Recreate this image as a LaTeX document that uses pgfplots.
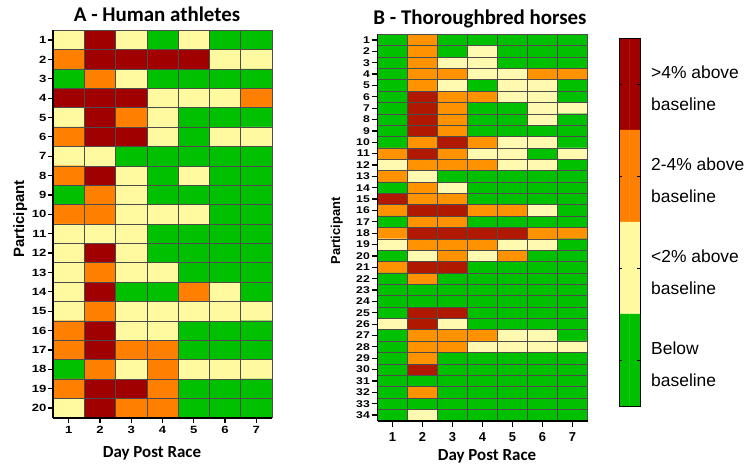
\documentclass[border=0pt]{standalone}
\usepackage{pgfplots}
\pgfplotsset{compat=1.18}
\usepackage{fontspec}
\setmainfont{Liberation Sans}
\newfontfamily\calibri{Carlito}
\newfontfamily\tickfont{Liberation Sans}[FakeStretch=1.25]
\pgfplotsset{
  colormap={cmA}{rgb255=(0,192,0) rgb255=(255,250,160) rgb255=(255,128,0) rgb255=(160,0,0)},
  colormap={cmB}{rgb255=(0,192,0) rgb255=(255,250,176) rgb255=(255,146,0) rgb255=(176,24,0)},
  hm/.style={
    scale only axis, axis on top,
    xmin=0.5, xmax=7.5, y dir=reverse,
    xtick={1,...,7},
    xtick pos=left, ytick pos=left,
    tick align=outside,
    minor xtick={0.5,1.5,...,7.5},
    minor tick length=0pt,
    xminorgrids, yminorgrids,
    minor grid style={black!70, line width=0.6pt},
    axis x line*=bottom, axis y line*=left,
    axis line style={black, line width=1.6pt, -},
    major tick style={black, line width=1.2pt},
    /pgf/number format/assume math mode=true,
    colormap access=direct,
  },
}
\begin{document}
\begin{tikzpicture}
\path[use as bounding box] (0,0) rectangle (750bp,-465bp);

% ---------------- Panel A ----------------
\begin{axis}[hm, colormap name=cmA,
  at={(53bp,-30.3bp)}, anchor=north west,
  width=219bp, height=387.4bp,
  ymin=0.5, ymax=20.5, ytick={1,...,20},
  minor ytick={0.5,1.5,...,20.5},
  major tick length=5bp,
  yticklabel style={font=\tickfont\bfseries\fontsize{10.5}{10.5}\selectfont, inner sep=1.5bp},
  xticklabel style={font=\tickfont\bfseries\fontsize{10.5}{10.5}\selectfont},
]
\addplot[matrix plot*, mesh/cols=7, point meta=explicit] table[meta=c, row sep=\\] {
x y c\\
1 1 1\\ 2 1 3\\ 3 1 1\\ 4 1 0\\ 5 1 1\\ 6 1 0\\ 7 1 0\\
1 2 2\\ 2 2 3\\ 3 2 3\\ 4 2 3\\ 5 2 3\\ 6 2 1\\ 7 2 1\\
1 3 0\\ 2 3 2\\ 3 3 1\\ 4 3 0\\ 5 3 0\\ 6 3 0\\ 7 3 0\\
1 4 3\\ 2 4 3\\ 3 4 3\\ 4 4 1\\ 5 4 1\\ 6 4 1\\ 7 4 2\\
1 5 1\\ 2 5 3\\ 3 5 2\\ 4 5 1\\ 5 5 0\\ 6 5 0\\ 7 5 0\\
1 6 2\\ 2 6 3\\ 3 6 3\\ 4 6 1\\ 5 6 0\\ 6 6 1\\ 7 6 1\\
1 7 1\\ 2 7 1\\ 3 7 0\\ 4 7 0\\ 5 7 0\\ 6 7 0\\ 7 7 0\\
1 8 2\\ 2 8 3\\ 3 8 1\\ 4 8 0\\ 5 8 1\\ 6 8 0\\ 7 8 0\\
1 9 0\\ 2 9 2\\ 3 9 1\\ 4 9 0\\ 5 9 0\\ 6 9 0\\ 7 9 0\\
1 10 2\\ 2 10 2\\ 3 10 1\\ 4 10 1\\ 5 10 1\\ 6 10 0\\ 7 10 0\\
1 11 1\\ 2 11 1\\ 3 11 1\\ 4 11 0\\ 5 11 0\\ 6 11 0\\ 7 11 0\\
1 12 1\\ 2 12 3\\ 3 12 1\\ 4 12 0\\ 5 12 0\\ 6 12 0\\ 7 12 0\\
1 13 1\\ 2 13 2\\ 3 13 1\\ 4 13 1\\ 5 13 0\\ 6 13 0\\ 7 13 0\\
1 14 1\\ 2 14 3\\ 3 14 0\\ 4 14 0\\ 5 14 2\\ 6 14 1\\ 7 14 0\\
1 15 1\\ 2 15 2\\ 3 15 1\\ 4 15 1\\ 5 15 1\\ 6 15 1\\ 7 15 1\\
1 16 2\\ 2 16 3\\ 3 16 1\\ 4 16 1\\ 5 16 0\\ 6 16 0\\ 7 16 0\\
1 17 2\\ 2 17 3\\ 3 17 2\\ 4 17 2\\ 5 17 0\\ 6 17 0\\ 7 17 0\\
1 18 0\\ 2 18 2\\ 3 18 1\\ 4 18 2\\ 5 18 1\\ 6 18 1\\ 7 18 1\\
1 19 2\\ 2 19 3\\ 3 19 3\\ 4 19 2\\ 5 19 0\\ 6 19 0\\ 7 19 0\\
1 20 1\\ 2 20 3\\ 3 20 2\\ 4 20 2\\ 5 20 0\\ 6 20 0\\ 7 20 0\\
};
\end{axis}

% ---------------- Panel B ----------------
\begin{axis}[hm, colormap name=cmB,
  at={(377.5bp,-34.3bp)}, anchor=north west,
  width=210bp, height=386.4bp,
  ymin=0.5, ymax=34.5, ytick={1,...,34},
  minor ytick={0.5,1.5,...,34.5},
  major tick length=6bp,
  yticklabel style={font=\tickfont\bfseries\fontsize{9.8}{9.8}\selectfont, inner sep=1.5bp},
  xticklabel style={font=\bfseries\fontsize{13}{13}\selectfont, yshift=-2bp},
]
\addplot[matrix plot*, mesh/cols=7, point meta=explicit] table[meta=c, row sep=\\] {
x y c\\
1 1 0\\ 2 1 2\\ 3 1 0\\ 4 1 0\\ 5 1 0\\ 6 1 0\\ 7 1 0\\
1 2 0\\ 2 2 2\\ 3 2 0\\ 4 2 1\\ 5 2 0\\ 6 2 0\\ 7 2 0\\
1 3 0\\ 2 3 2\\ 3 3 1\\ 4 3 1\\ 5 3 0\\ 6 3 0\\ 7 3 0\\
1 4 0\\ 2 4 2\\ 3 4 2\\ 4 4 1\\ 5 4 1\\ 6 4 2\\ 7 4 2\\
1 5 0\\ 2 5 2\\ 3 5 1\\ 4 5 0\\ 5 5 1\\ 6 5 1\\ 7 5 0\\
1 6 0\\ 2 6 3\\ 3 6 2\\ 4 6 2\\ 5 6 1\\ 6 6 1\\ 7 6 0\\
1 7 0\\ 2 7 3\\ 3 7 2\\ 4 7 0\\ 5 7 0\\ 6 7 1\\ 7 7 1\\
1 8 0\\ 2 8 3\\ 3 8 2\\ 4 8 0\\ 5 8 0\\ 6 8 1\\ 7 8 0\\
1 9 0\\ 2 9 3\\ 3 9 2\\ 4 9 0\\ 5 9 0\\ 6 9 0\\ 7 9 0\\
1 10 0\\ 2 10 2\\ 3 10 3\\ 4 10 2\\ 5 10 1\\ 6 10 1\\ 7 10 0\\
1 11 2\\ 2 11 3\\ 3 11 2\\ 4 11 1\\ 5 11 1\\ 6 11 0\\ 7 11 1\\
1 12 1\\ 2 12 2\\ 3 12 2\\ 4 12 2\\ 5 12 1\\ 6 12 1\\ 7 12 0\\
1 13 2\\ 2 13 1\\ 3 13 0\\ 4 13 0\\ 5 13 0\\ 6 13 0\\ 7 13 0\\
1 14 0\\ 2 14 2\\ 3 14 1\\ 4 14 0\\ 5 14 0\\ 6 14 0\\ 7 14 0\\
1 15 3\\ 2 15 2\\ 3 15 2\\ 4 15 0\\ 5 15 0\\ 6 15 0\\ 7 15 0\\
1 16 2\\ 2 16 3\\ 3 16 3\\ 4 16 2\\ 5 16 2\\ 6 16 1\\ 7 16 0\\
1 17 0\\ 2 17 2\\ 3 17 2\\ 4 17 0\\ 5 17 0\\ 6 17 0\\ 7 17 0\\
1 18 2\\ 2 18 3\\ 3 18 3\\ 4 18 3\\ 5 18 3\\ 6 18 2\\ 7 18 2\\
1 19 1\\ 2 19 2\\ 3 19 2\\ 4 19 2\\ 5 19 1\\ 6 19 1\\ 7 19 0\\
1 20 0\\ 2 20 1\\ 3 20 2\\ 4 20 1\\ 5 20 2\\ 6 20 0\\ 7 20 0\\
1 21 2\\ 2 21 3\\ 3 21 3\\ 4 21 0\\ 5 21 0\\ 6 21 0\\ 7 21 0\\
1 22 0\\ 2 22 2\\ 3 22 0\\ 4 22 0\\ 5 22 0\\ 6 22 0\\ 7 22 0\\
1 23 0\\ 2 23 0\\ 3 23 0\\ 4 23 0\\ 5 23 0\\ 6 23 0\\ 7 23 0\\
1 24 0\\ 2 24 0\\ 3 24 0\\ 4 24 0\\ 5 24 0\\ 6 24 0\\ 7 24 0\\
1 25 0\\ 2 25 3\\ 3 25 3\\ 4 25 0\\ 5 25 0\\ 6 25 0\\ 7 25 0\\
1 26 1\\ 2 26 3\\ 3 26 1\\ 4 26 0\\ 5 26 0\\ 6 26 0\\ 7 26 0\\
1 27 0\\ 2 27 2\\ 3 27 2\\ 4 27 2\\ 5 27 1\\ 6 27 1\\ 7 27 0\\
1 28 0\\ 2 28 2\\ 3 28 2\\ 4 28 1\\ 5 28 1\\ 6 28 1\\ 7 28 1\\
1 29 0\\ 2 29 2\\ 3 29 0\\ 4 29 0\\ 5 29 0\\ 6 29 0\\ 7 29 0\\
1 30 0\\ 2 30 3\\ 3 30 0\\ 4 30 0\\ 5 30 0\\ 6 30 0\\ 7 30 0\\
1 31 0\\ 2 31 0\\ 3 31 0\\ 4 31 0\\ 5 31 0\\ 6 31 0\\ 7 31 0\\
1 32 0\\ 2 32 2\\ 3 32 0\\ 4 32 0\\ 5 32 0\\ 6 32 0\\ 7 32 0\\
1 33 0\\ 2 33 0\\ 3 33 0\\ 4 33 0\\ 5 33 0\\ 6 33 0\\ 7 33 0\\
1 34 0\\ 2 34 1\\ 3 34 0\\ 4 34 0\\ 5 34 0\\ 6 34 0\\ 7 34 0\\
};
\end{axis}

% ---------------- Colour key ----------------
\begin{axis}[scale only axis, colormap name=cmA, colormap access=direct,
  at={(619bp,-38bp)}, anchor=north west,
  width=21bp, height=368bp,
  xmin=0.5, xmax=2.5, ymin=0.5, ymax=4.5, y dir=reverse,
  xtick=\empty, ytick={1,2,3,4},
  yticklabels={{>4\% above\\baseline},{2-4\% above\\baseline},{<2\% above\\baseline},{Below\\baseline}},
  yticklabel pos=right,
  tick align=inside, major tick length=3bp,
  major tick style={black, line width=0.8pt},
  axis line style={black, line width=1pt},
  axis on top,
  yticklabel style={anchor=west, align=left, inner sep=0pt, xshift=11bp, yshift=-4bp,
    font=\fontsize{17.5}{32}\selectfont},
]
\addplot[matrix plot*, mesh/cols=2, point meta=explicit] table[meta=c, row sep=\\] {
x y c\\
1 1 3\\ 2 1 3\\
1 2 2\\ 2 2 2\\
1 3 1\\ 2 3 1\\
1 4 0\\ 2 4 0\\
};
\end{axis}

% ---------------- Titles and axis labels ----------------
\node[anchor=base, font=\calibri\bfseries\fontsize{21}{21}\selectfont] at (157bp,-21bp) {A - Human athletes};
\node[anchor=base, font=\calibri\bfseries\fontsize{21}{21}\selectfont] at (480bp,-24bp) {B - Thoroughbred horses};
\node[anchor=base, font=\calibri\bfseries\fontsize{17}{17}\selectfont] at (152bp,-457bp) {Day Post Race};
\node[anchor=base, font=\calibri\bfseries\fontsize{17}{17}\selectfont] at (487bp,-460bp) {Day Post Race};
\node[anchor=base, rotate=90, font=\bfseries\fontsize{15}{15}\selectfont] at (24bp,-219bp) {Participant};
\node[anchor=base, rotate=90, font=\bfseries\fontsize{13}{13}\selectfont] at (340bp,-231bp) {Participant};
\end{tikzpicture}
\end{document}
